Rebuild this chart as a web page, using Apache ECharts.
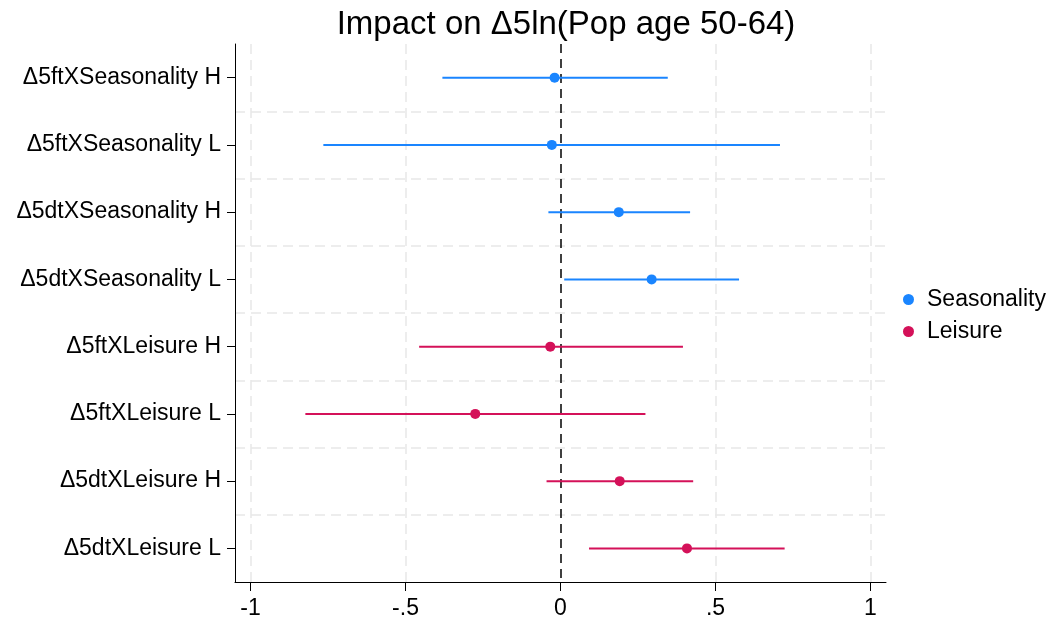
<!DOCTYPE html>
<html><head><meta charset="utf-8">
<script src="https://cdn.jsdelivr.net/npm/echarts@6/dist/echarts.min.js"></script>
<style>html,body{margin:0;padding:0;background:#fff}#c{width:1056px;height:622px}</style>
</head><body><div id="c"></div>
<script>
// top-to-bottom order
const categories = ['Δ5ftXSeasonality H','Δ5ftXSeasonality L','Δ5dtXSeasonality H','Δ5dtXSeasonality L','Δ5ftXLeisure H','Δ5ftXLeisure L','Δ5dtXLeisure H','Δ5dtXLeisure L'];
const seasonalityCats = ['Δ5ftXSeasonality H','Δ5ftXSeasonality L','Δ5dtXSeasonality H','Δ5dtXSeasonality L'];
const seasonalityEst = [-0.019, -0.028, 0.188, 0.294];
const seasonalityLo  = [-0.381, -0.765, -0.039, 0.012];
const seasonalityHi  = [0.346, 0.708, 0.418, 0.576];
const leisureCats = ['Δ5ftXLeisure H','Δ5ftXLeisure L','Δ5dtXLeisure H','Δ5dtXLeisure L'];
const leisureEst = [-0.033, -0.275, 0.191, 0.408];
const leisureLo  = [-0.456, -0.823, -0.045, 0.092];
const leisureHi  = [0.395, 0.274, 0.428, 0.723];
const xTicks = [-1, -0.5, 0, 0.5, 1];
const xTickLabels = ['-1', '-.5', '0', '.5', '1'];
const gridX = [-1, -0.5, 0.5, 1];

const blue = '#1a85ff', red = '#d41159';
const font = 'Liberation Sans, Arial, sans-serif';

function ciSeries(name, cats, lo, hi, color) {
  return {
    name: name, type: 'custom', z: 3,
    itemStyle: { color: color },
    data: cats.map((c, i) => [lo[i], hi[i], c]),
    encode: { x: [0, 1], y: 2 },
    renderItem: function (params, api) {
      const a = api.coord([api.value(0), api.value(2)]);
      const b = api.coord([api.value(1), api.value(2)]);
      return { type: 'line', shape: { x1: a[0], y1: a[1], x2: b[0], y2: b[1] },
        style: { stroke: color, lineWidth: 2 } };
    },
    silent: true
  };
}

const chart = echarts.init(document.getElementById('c'), null, { renderer: 'canvas' });
chart.setOption({
  animation: false,
  backgroundColor: '#fff',
  title: { text: 'Impact on Δ5ln(Pop age 50-64)', left: 561, textAlign: 'center', top: 3,
    textStyle: { fontFamily: font, fontSize: 33, fontWeight: 'normal', color: '#000' } },
  legend: {
    data: ['Seasonality', 'Leisure'], orient: 'vertical', left: 898, top: 283,
    icon: 'circle', itemWidth: 11, itemHeight: 11, itemGap: 9,
    textStyle: { fontFamily: font, fontSize: 23, lineHeight: 23, color: '#000', padding: [0, 0, 0, 8] }
  },
  grid: { left: 235, right: 170, top: 44, bottom: 40 },
  xAxis: {
    type: 'value', min: -1.05, max: 1.05,
    axisLine: { show: true, onZero: false, lineStyle: { color: '#000', width: 1 } },
    axisTick: { show: true, customValues: xTicks, length: 9, lineStyle: { color: '#000' } },
    axisLabel: { customValues: xTicks, formatter: v => xTickLabels[xTicks.indexOf(Math.round(v * 10) / 10)],
      fontFamily: font, fontSize: 23, color: '#000', margin: 15 },
    splitLine: { show: false }
  },
  yAxis: {
    type: 'category', data: categories, inverse: true, boundaryGap: true,
    axisLine: { show: true, onZero: false, lineStyle: { color: '#000', width: 1 } },
    axisTick: { show: true, alignWithLabel: true, length: 8, lineStyle: { color: '#000' } },
    axisLabel: { fontFamily: font, fontSize: 23, color: '#000', margin: 14 },
    splitLine: { show: true, showMinLine: false, showMaxLine: false,
      lineStyle: { color: '#e8e8e8', type: [10, 6], width: 1.5 } }
  },
  series: [
    { name: 'Seasonality', type: 'scatter', z: 4, symbolSize: 10, itemStyle: { color: blue, opacity: 1 },
      data: seasonalityCats.map((c, i) => [seasonalityEst[i], c]),
      markLine: { silent: true, symbol: 'none', label: { show: false }, z: 1,
        lineStyle: { color: '#e8e8e8', type: [10, 6], width: 1.5 },
        data: gridX.map(v => ({ xAxis: v })) } },
    { name: 'Leisure', type: 'scatter', z: 4, symbolSize: 10, itemStyle: { color: red, opacity: 1 },
      data: leisureCats.map((c, i) => [leisureEst[i], c]),
      markLine: { silent: true, symbol: 'none', label: { show: false }, z: 2,
        lineStyle: { color: '#000', type: [9, 6], width: 1.5 },
        data: [{ xAxis: 0 }] } },
    ciSeries('Seasonality', seasonalityCats, seasonalityLo, seasonalityHi, blue),
    ciSeries('Leisure', leisureCats, leisureLo, leisureHi, red)
  ]
});
</script></body></html>
